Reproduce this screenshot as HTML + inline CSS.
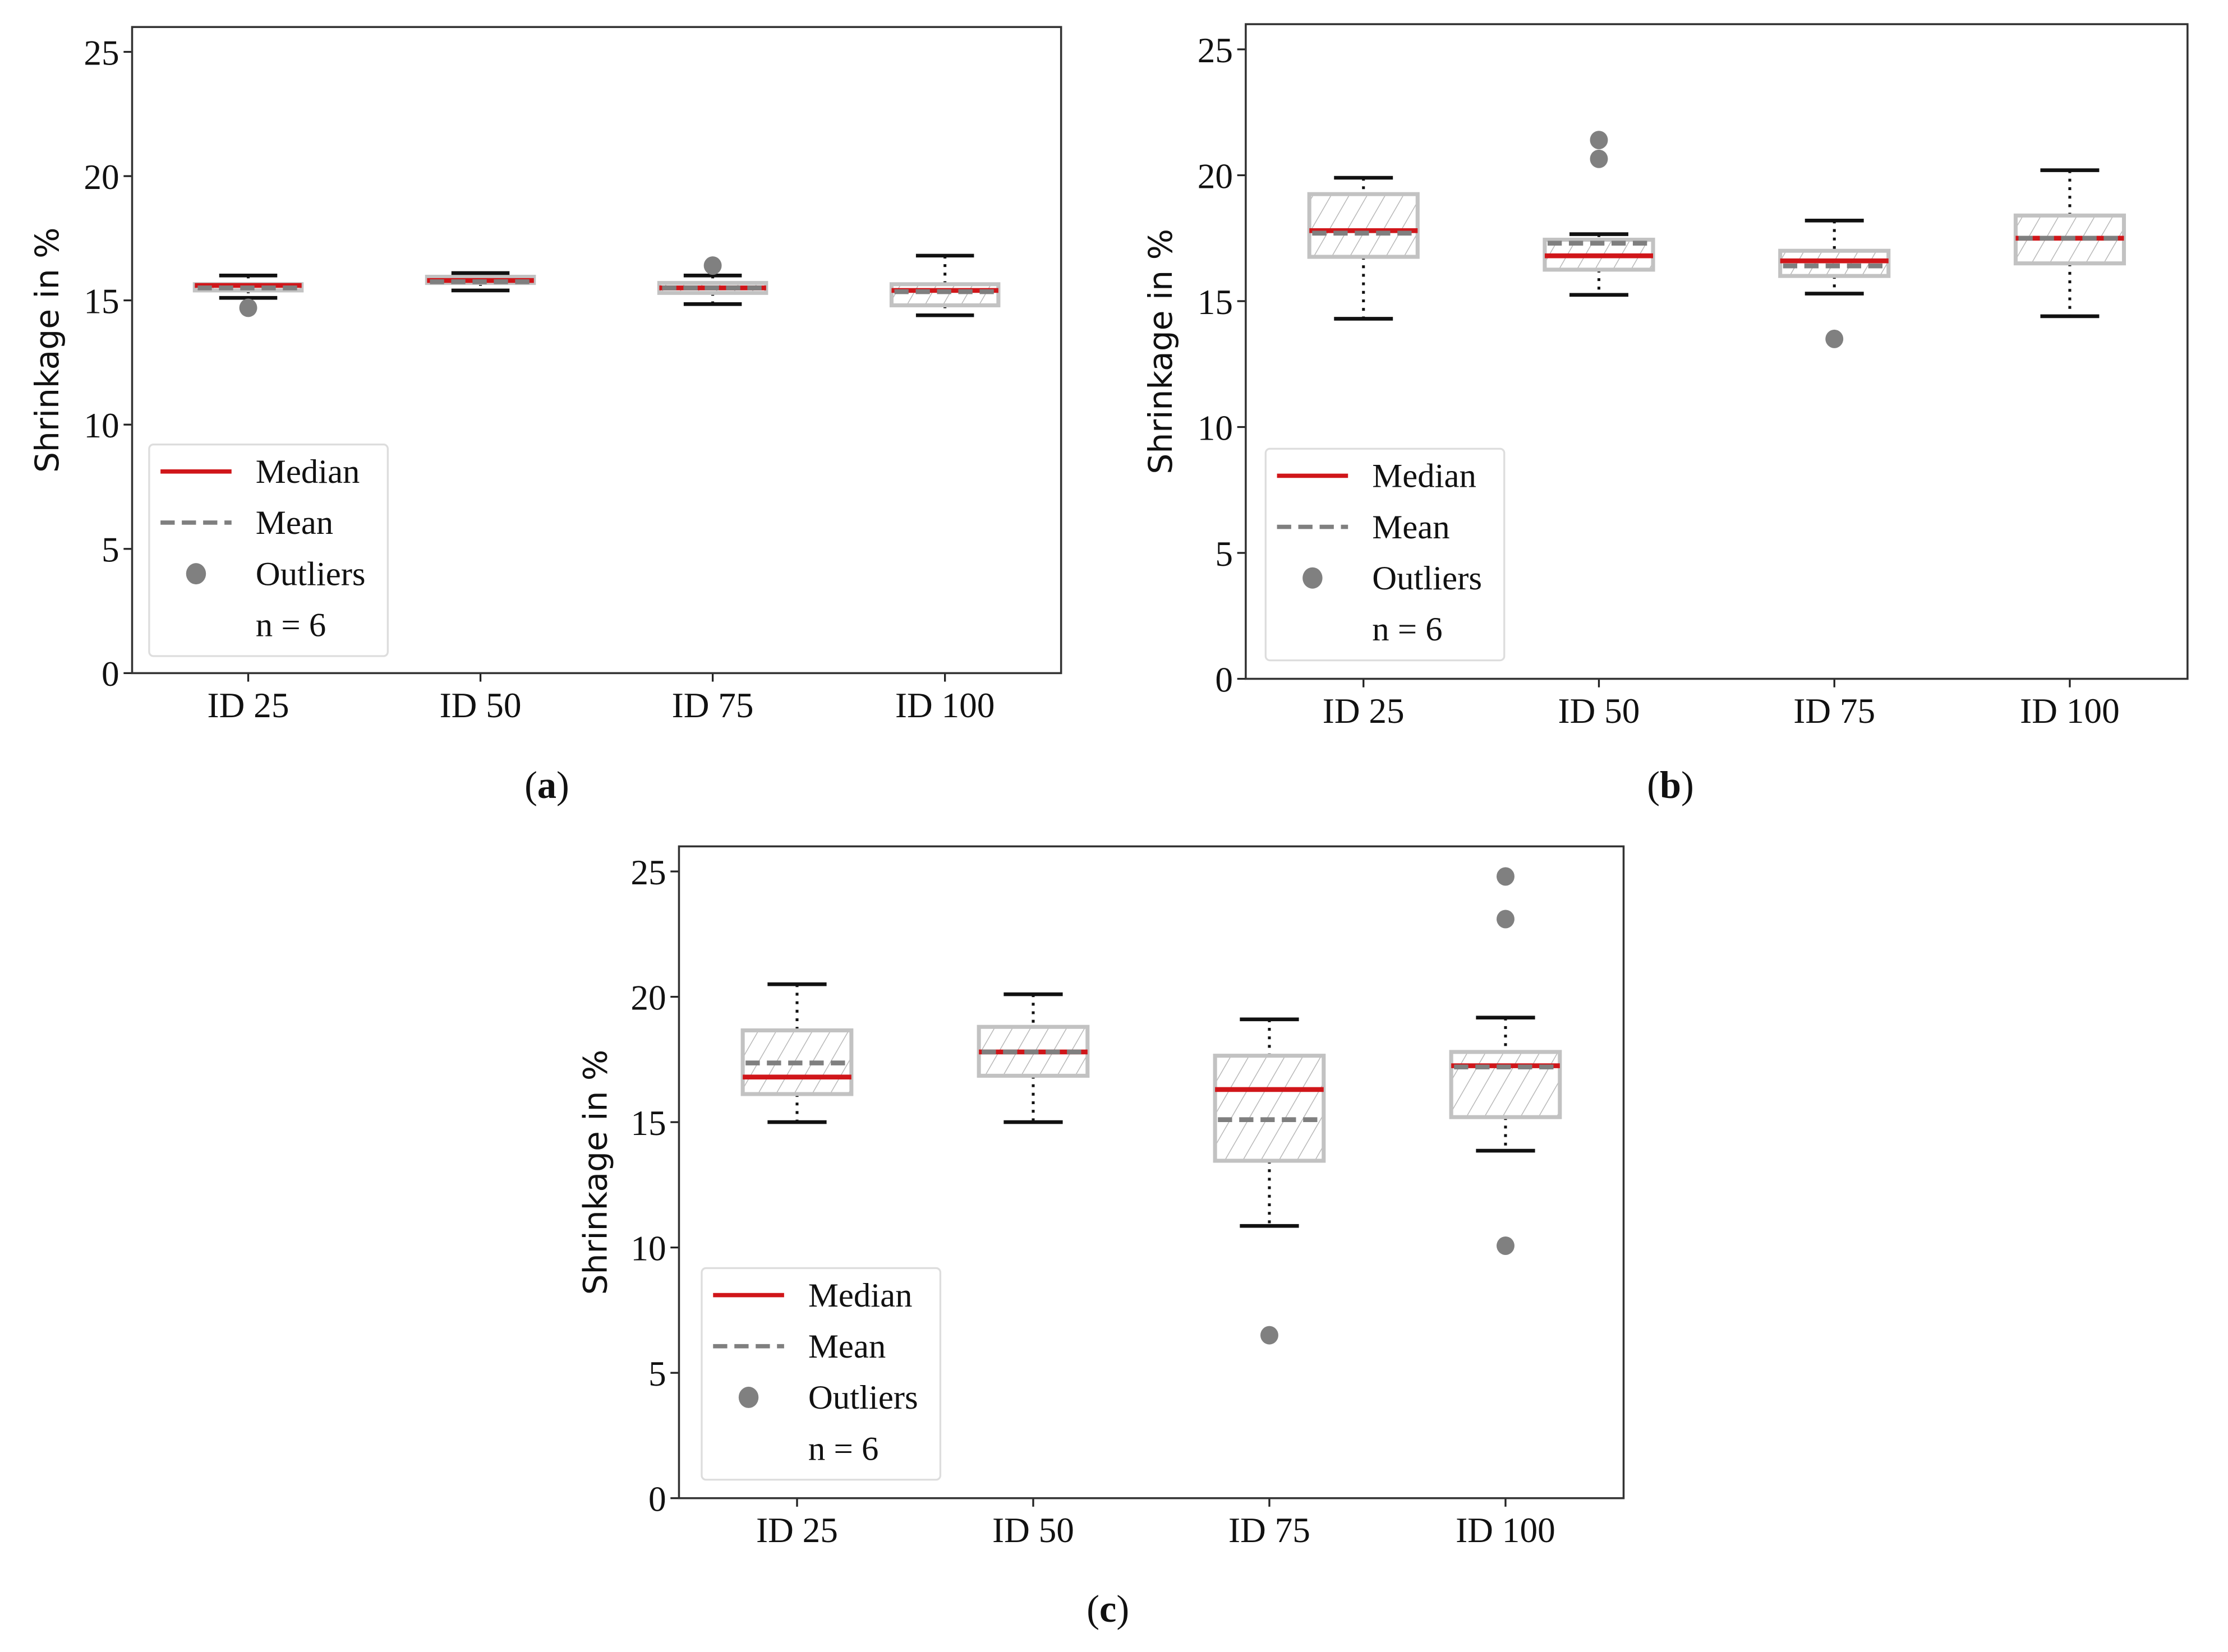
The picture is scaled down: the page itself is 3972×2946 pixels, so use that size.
<!DOCTYPE html>
<html><head><meta charset="utf-8"><style>
html,body{margin:0;padding:0;background:#fff;}
svg{display:block;}
text{font-family:"Liberation Serif",serif;fill:#111;}
</style></head><body>
<svg id="fig" width="3972" height="2946" viewBox="0 0 1568.5 1163.3" xmlns="http://www.w3.org/2000/svg">
<defs>
<pattern id="hatch" patternUnits="userSpaceOnUse" width="11" height="11" patternTransform="rotate(30)">
<rect width="11" height="11" fill="#fff"/>
<line x1="0" y1="0" x2="0" y2="11" stroke="#b8b8b8" stroke-width="1.2"/>
</pattern>
</defs>
</svg>
<script>
const categories = ["ID 25","ID 50","ID 75","ID 100"];
const yTicks = [0,5,10,15,20,25];
// panel a
const aWhiskLo = [15.1,15.4,14.85,14.4];
const aWhiskHi = [16.0,16.1,16.0,16.8];
const aQ1 = [15.4,15.7,15.3,14.8];
const aQ3 = [15.65,15.95,15.7,15.65];
const aMedian = [15.6,15.8,15.5,15.4];
const aMean = [15.5,15.75,15.5,15.35];
const aOutliers = [[14.7],[],[16.4],[]];
// panel b
const bWhiskLo = [14.3,15.25,15.3,14.4];
const bWhiskHi = [19.9,17.66,18.2,20.2];
const bQ1 = [16.76,16.25,16.0,16.5];
const bQ3 = [19.25,17.44,17.0,18.4];
const bMedian = [17.8,16.8,16.6,17.5];
const bMean = [17.7,17.3,16.4,17.5];
const bOutliers = [[],[21.4,20.65],[13.5],[]];
// panel c
const cWhiskLo = [15.0,15.0,10.86,13.86];
const cWhiskHi = [20.5,20.1,19.1,19.17];
const cQ1 = [16.12,16.85,13.46,15.2];
const cQ3 = [18.66,18.8,17.65,17.8];
const cMedian = [16.8,17.8,16.3,17.25];
const cMean = [17.36,17.8,15.1,17.2];
const cOutliers = [[],[],[6.5],[24.8,23.1,10.07]];

const NS="http://www.w3.org/2000/svg";
const svg=document.getElementById('fig');
function el(tag,attrs,parent,txt){const e=document.createElementNS(NS,tag);for(const k in attrs)e.setAttribute(k,attrs[k]);if(txt!==undefined)e.textContent=txt;(parent||svg).appendChild(e);return e;}

function panel(id,box,d,leg,ylabX,cap){
  const g=el('g',{});
  
  
  const [L,R,T,B]=box;
  const ys=v=>B-(B-T)*v/26;
  const xs=i=>L+(R-L)*(i+0.5)/4;
  const u=(R-L)/4;
  yTicks.forEach(t=>{
    const tk=el('line',{x1:L-6,x2:L,y1:ys(t),y2:ys(t),stroke:'#222','stroke-width':1.3},g);
    
    
    const lb=el('text',{x:L-9,y:ys(t)+9,'text-anchor':'end','font-size':25},g,String(t));
    
    
  });
  categories.forEach((c,i)=>{
    el('line',{x1:xs(i),x2:xs(i),y1:B,y2:B+6,stroke:'#222','stroke-width':1.3},g);
    const lb=el('text',{x:xs(i),y:B+31,'text-anchor':'middle','font-size':25},g,c);
    
    
  });
  categories.forEach((c,i)=>{
    const x=xs(i),bw=u*0.46,cw=u*0.25;
    const bg=el('g',{},g);
    
    
    el('line',{x1:x,x2:x,y1:ys(d.wh[i]),y2:ys(d.q3[i]),stroke:'#111','stroke-width':2,'stroke-dasharray':'2,4'},bg);
    el('line',{x1:x,x2:x,y1:ys(d.q1[i]),y2:ys(d.wl[i]),stroke:'#111','stroke-width':2,'stroke-dasharray':'2,4'},bg);
    el('rect',{x:x-bw/2,y:ys(d.q3[i]),width:bw,height:ys(d.q1[i])-ys(d.q3[i]),fill:'url(#hatch)',stroke:'#c2c2c2','stroke-width':2.8},bg);
    el('line',{x1:x-cw/2,x2:x+cw/2,y1:ys(d.wh[i]),y2:ys(d.wh[i]),stroke:'#111','stroke-width':2.6},bg);
    el('line',{x1:x-cw/2,x2:x+cw/2,y1:ys(d.wl[i]),y2:ys(d.wl[i]),stroke:'#111','stroke-width':2.6},bg);
    const md=el('line',{x1:x-bw/2,x2:x+bw/2,y1:ys(d.md[i]),y2:ys(d.md[i]),stroke:'#d0161a','stroke-width':3.4},bg);
    
    
    const mn=el('line',{x1:x-bw/2+2,x2:x+bw/2,y1:ys(d.mn[i]),y2:ys(d.mn[i]),stroke:'#7f7f7f','stroke-width':3.4,'stroke-dasharray':'10,5'},bg);
    
    
    d.out[i].forEach(o=>{
      const p=el('ellipse',{cx:x,cy:ys(o),rx:6.3,ry:6.5,fill:'#808080'},bg);
      
      
    });
  });
  const fr=el('rect',{x:L,y:T,width:R-L,height:B-T,fill:'none',stroke:'#333','stroke-width':1.4},g);
  
  
  const [lx,ly]=leg;
  const lg=el('g',{},g);
  
  
  el('rect',{x:lx,y:ly,width:168,height:149,rx:3,fill:'#fff',stroke:'#ddd','stroke-width':1.3},lg);
  const ey=[19,55,91,127];
  el('line',{x1:lx+8,x2:lx+58,y1:ly+ey[0],y2:ly+ey[0],stroke:'#d0161a','stroke-width':3},lg);
  el('line',{x1:lx+8,x2:lx+58,y1:ly+ey[1],y2:ly+ey[1],stroke:'#7f7f7f','stroke-width':3,'stroke-dasharray':'10,5'},lg);
  el('ellipse',{cx:lx+33,cy:ly+ey[2],rx:7,ry:7.5,fill:'#808080'},lg);
  ['Median','Mean','Outliers','n = 6'].forEach((t,k)=>{
    const e=el('text',{x:lx+75,y:ly+ey[k]+8,'font-size':24},lg,t);
    
    
  });
  const yl=el('text',{x:ylabX,y:(T+B)/2,'text-anchor':'middle','font-size':23,transform:`rotate(-90 ${ylabX} ${(T+B)/2})`,style:'font-family:"DejaVu Sans",sans-serif'},g,'Shrinkage in %');
  
  
  const cp=el('text',{x:cap[0],y:cap[1]+9,'text-anchor':'middle','font-size':27},g);
  
  
  el('tspan',{},cp,'(');
  el('tspan',{'font-weight':'bold'},cp,id);
  el('tspan',{},cp,')');
}
panel('a',[93,747,19,474],{wl:aWhiskLo,wh:aWhiskHi,q1:aQ1,q3:aQ3,md:aMedian,mn:aMean,out:aOutliers},[105,313],41,[385,553]);
panel('b',[877,1540,17,478],{wl:bWhiskLo,wh:bWhiskHi,q1:bQ1,q3:bQ3,md:bMedian,mn:bMean,out:bOutliers},[891,316],825,[1176,553]);
panel('c',[478,1143,596,1055],{wl:cWhiskLo,wh:cWhiskHi,q1:cQ1,q3:cQ3,md:cMedian,mn:cMean,out:cOutliers},[494,893],427,[780,1133]);
</script>
</body></html>
